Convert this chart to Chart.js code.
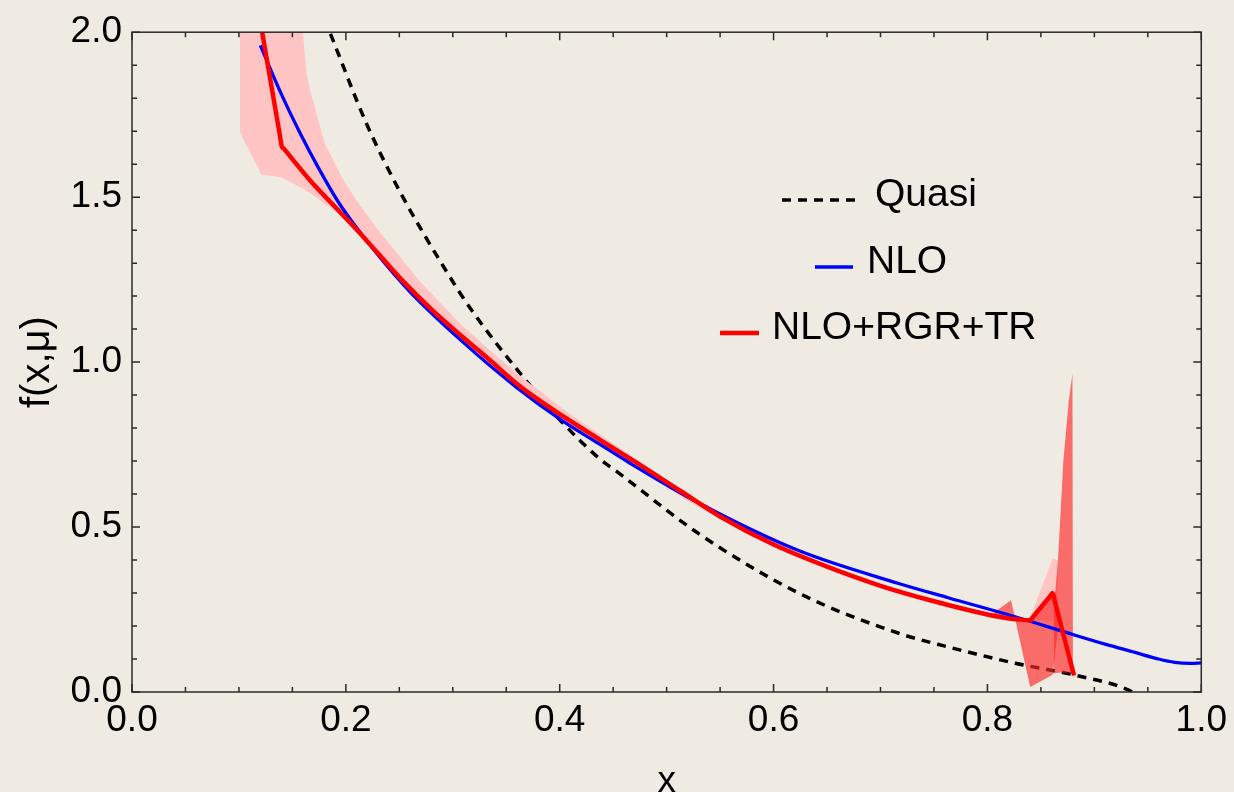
<!DOCTYPE html>
<html>
<head>
<meta charset="utf-8">
<script src="https://cdn.jsdelivr.net/npm/chart.js@4.4.1/dist/chart.umd.min.js"></script>
<style>
    html, body { margin: 0; padding: 0; background: #efebe3; }
    #wrap { width: 1234px; height: 792px; }
</style>
</head>
<body>
<div id="wrap"><canvas id="graph" width="1234" height="792"></canvas></div>
<script>
// Quasi (dashed black)
var quasiX = [0.18, 0.185, 0.219, 0.25, 0.295, 0.316, 0.372, 0.403, 0.437, 0.456, 0.53, 0.624, 0.717, 0.764, 0.826, 0.882, 0.932, 0.94];
var quasiY = [2.04, 2.0, 1.725, 1.52, 1.27, 1.165, 0.93, 0.815, 0.708, 0.662, 0.48, 0.299, 0.178, 0.136, 0.087, 0.051, 0.006, -0.01];

// NLO (blue)
var nloX = [0.12, 0.14, 0.157, 0.175, 0.194, 0.225, 0.26, 0.309, 0.359, 0.403, 0.437, 0.465, 0.53, 0.624, 0.717, 0.764, 0.826, 0.882, 0.91, 0.938, 0.96, 0.975, 0.99, 1.0];
var nloY = [1.96, 1.81, 1.695, 1.585, 1.48, 1.345, 1.213, 1.062, 0.925, 0.821, 0.752, 0.695, 0.573, 0.428, 0.329, 0.285, 0.228, 0.172, 0.145, 0.12, 0.1, 0.09, 0.087, 0.088];

// NLO+RGR+TR (red)
var rgrX = [0.118, 0.138, 0.14, 0.142, 0.166, 0.19, 0.21, 0.23, 0.253, 0.28, 0.309, 0.335, 0.359, 0.38, 0.403, 0.437, 0.47, 0.5, 0.514, 0.55, 0.6, 0.65, 0.7, 0.75, 0.8, 0.822, 0.838, 0.84, 0.842, 0.859, 0.861, 0.863, 0.879, 0.881];
var rgrY = [2.07, 1.693, 1.655, 1.647, 1.553, 1.47, 1.402, 1.33, 1.247, 1.16, 1.077, 1.005, 0.937, 0.886, 0.836, 0.766, 0.699, 0.636, 0.607, 0.532, 0.447, 0.38, 0.322, 0.275, 0.235, 0.222, 0.2175, 0.217, 0.225, 0.292, 0.3, 0.275, 0.075, 0.05];

// error band (light)
var bandX = [0.101, 0.121, 0.14, 0.159, 0.163, 0.166, 0.172, 0.18, 0.197, 0.21, 0.229, 0.253, 0.269, 0.309, 0.34, 0.372, 0.41, 0.465, 0.52, 0.58, 0.64];
var bandUp = [2.6, 2.4, 2.25, 2.03, 1.88, 1.83, 1.76, 1.665, 1.555, 1.49, 1.405, 1.31, 1.245, 1.11, 1.02, 0.935, 0.842, 0.72, 0.6, 0.488, 0.398];
var bandLow = [1.695, 1.569, 1.56, 1.527, 1.519, 1.514, 1.5, 1.48, 1.445, 1.392, 1.325, 1.24, 1.19, 1.07, 0.985, 0.9, 0.81, 0.698, 0.578, 0.47, 0.388];

// band pieces near x = 0.85
var peakX = [0.84, 0.861, 0.866];
var peakUp = [0.226, 0.405, 0.4];
var peakLow = [0.217, 0.215, 0.215];

var triX = [0.804, 0.822, 0.826];
var triUp = [0.236, 0.278, 0.222];
var triLow = [0.232, 0.223, 0.221];

var dropX = [0.826, 0.84, 0.861, 0.867];
var dropUp = [0.221, 0.217, 0.3, 0.222];
var dropLow = [0.22, 0.015, 0.052, 0.222];

var spikeX = [0.862, 0.866, 0.871, 0.876, 0.8795, 0.88];
var spikeUp = [0.25, 0.4, 0.7, 0.88, 0.965, 0.965];
var spikeLow = [0.057, 0.058, 0.058, 0.059, 0.06, 0.06];

var FONT = "'Liberation Sans', Arial, sans-serif";
var PINK = '#ffc4c4';
var DARK = 'rgba(255, 40, 40, 0.65)';

const pts = (xs, ys) => xs.map((x, i) => ({ x: x, y: ys[i] }));

const edge = (xs, ys, fillColor, order) => ({
    data: pts(xs, ys),
    borderWidth: 0,
    pointRadius: 0,
    tension: 0,
    order: order,
    clip: 0,
    fill: fillColor ? { target: '+1', above: fillColor, below: fillColor } : false,
    backgroundColor: fillColor || 'transparent'
});

// inward ticks and frame box
var framePlugin = {
    id: 'frame',
    afterDatasetsDraw: function (chart) {
        var ctx = chart.ctx;
        var a = chart.chartArea;
        var xs = chart.scales.x;
        var ys = chart.scales.y;
        ctx.save();
        ctx.strokeStyle = '#2a2a2a';
        ctx.lineWidth = 1.5;
        ctx.strokeRect(a.left, a.top, a.right - a.left, a.bottom - a.top);
        ctx.beginPath();
        for (var i = 0; i <= 20; i++) {
            var px = xs.getPixelForValue(i * 0.05);
            var len = (i % 4 == 0) ? 8 : 5;
            ctx.moveTo(px, a.bottom); ctx.lineTo(px, a.bottom - len);
            ctx.moveTo(px, a.top); ctx.lineTo(px, a.top + len);
        }
        for (var j = 0; j <= 20; j++) {
            var py = ys.getPixelForValue(j * 0.1);
            var l = (j % 5 == 0) ? 8 : 5;
            ctx.moveTo(a.left, py); ctx.lineTo(a.left + l, py);
            ctx.moveTo(a.right, py); ctx.lineTo(a.right - l, py);
        }
        ctx.stroke();
        ctx.restore();
    }
};

// legend drawn inside the plot
var legendItems = [
    { text: 'Quasi', color: '#000000', dash: [9, 7], width: 3.5, x0: 782, x1: 858, y: 200, tx: 875 },
    { text: 'NLO', color: '#0000ff', dash: [], width: 3.3, x0: 815, x1: 853, y: 267, tx: 867 },
    { text: 'NLO+RGR+TR', color: '#ff0000', dash: [], width: 4.5, x0: 720, x1: 759, y: 333, tx: 772 }
];
var legendPlugin = {
    id: 'insideLegend',
    afterDraw: function (chart) {
        var ctx = chart.ctx;
        ctx.save();
        legendItems.forEach(function (it) {
            ctx.beginPath();
            ctx.setLineDash(it.dash);
            ctx.strokeStyle = it.color;
            ctx.lineWidth = it.width;
            ctx.moveTo(it.x0, it.y);
            ctx.lineTo(it.x1, it.y);
            ctx.stroke();
            ctx.setLineDash([]);
            ctx.fillStyle = '#000000';
            ctx.font = '39px ' + FONT;
            ctx.textBaseline = 'alphabetic';
            ctx.fillText(it.text, it.tx, it.y + 6);
        });
        ctx.restore();
    }
};

var ctx = document.getElementById('graph').getContext('2d');
var myChart = new Chart(ctx, {
    type: 'line',
    data: {
        datasets: [
            {
                label: 'NLO+RGR+TR',
                data: pts(rgrX, rgrY),
                borderColor: '#ff0000',
                borderWidth: 4.5,
                pointRadius: 0,
                cubicInterpolationMode: 'monotone',
                fill: false,
                clip: 0,
                order: 1
            },
            {
                label: 'NLO',
                data: pts(nloX, nloY),
                borderColor: '#0000ff',
                borderWidth: 3.3,
                pointRadius: 0,
                cubicInterpolationMode: 'monotone',
                fill: false,
                clip: 0,
                order: 2
            },
            {
                label: 'Quasi',
                data: pts(quasiX, quasiY),
                borderColor: '#000000',
                borderWidth: 3.5,
                borderDash: [9, 7],
                pointRadius: 0,
                cubicInterpolationMode: 'monotone',
                fill: false,
                clip: 0,
                order: 20
            },
            edge(bandX, bandUp, PINK, 10),
            edge(bandX, bandLow, null, 10),
            edge(peakX, peakUp, PINK, 9),
            edge(peakX, peakLow, null, 9),
            edge(triX, triUp, DARK, 8),
            edge(triX, triLow, null, 8),
            edge(dropX, dropUp, DARK, 8),
            edge(dropX, dropLow, null, 8),
            edge(spikeX, spikeUp, DARK, 8),
            edge(spikeX, spikeLow, null, 8)
        ]
    },
    options: {
        responsive: false,
        animation: false,
        events: [],
        layout: {
            padding: { top: 29, right: 31, left: 0, bottom: 0 }
        },
        scales: {
            x: {
                type: 'linear',
                min: 0,
                max: 1,
                afterFit: function (scale) { scale.height = 100; },
                ticks: {
                    stepSize: 0.2,
                    padding: 7,
                    color: '#000000',
                    font: { family: FONT, size: 37 },
                    maxRotation: 0,
                    callback: function (v) { return Number(v).toFixed(1); }
                },
                grid: { display: false, drawTicks: false },
                border: { display: false },
                title: {
                    display: true,
                    text: 'x',
                    color: '#000000',
                    padding: { top: 0, bottom: -8 },
                    font: { family: FONT, size: 37, lineHeight: 1 }
                }
            },
            y: {
                type: 'linear',
                min: 0,
                max: 2,
                afterFit: function (scale) { scale.width = 132; },
                ticks: {
                    stepSize: 0.5,
                    padding: 10,
                    color: '#000000',
                    font: { family: FONT, size: 37 },
                    callback: function (v) { return Number(v).toFixed(1); }
                },
                grid: { display: false, drawTicks: false },
                border: { display: false },
                title: {
                    display: true,
                    text: 'f(x,\u03bc)',
                    color: '#000000',
                    padding: { top: 14, bottom: 0 },
                    font: { family: FONT, size: 40, lineHeight: 1.2 }
                }
            }
        },
        plugins: {
            legend: { display: false },
            tooltip: { enabled: false }
        }
    },
    plugins: [framePlugin, legendPlugin]
});
</script>
</body>
</html>
